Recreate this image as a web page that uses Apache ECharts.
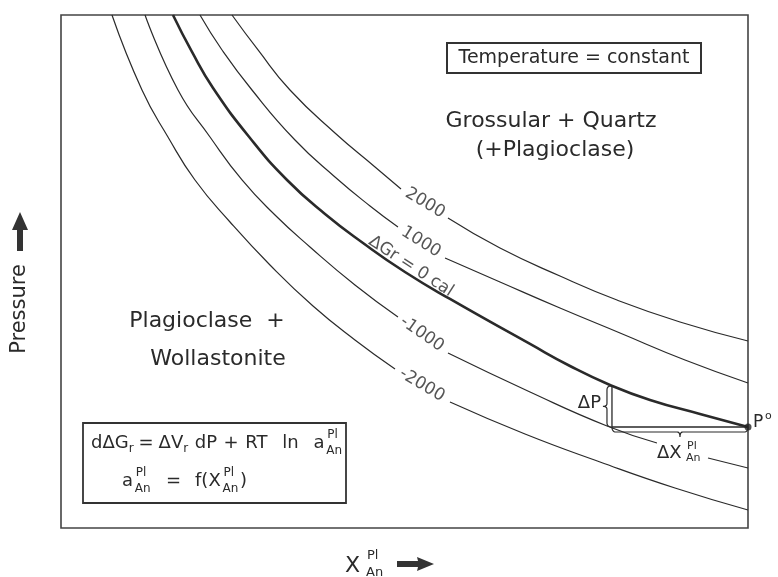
<!DOCTYPE html>
<html>
<head>
<meta charset="utf-8">
<script src="https://cdn.jsdelivr.net/npm/echarts/dist/echarts.min.js"></script>
<style>html,body{margin:0;padding:0;background:#fff}#c{width:778px;height:577px}</style>
</head>
<body>
<div id="c"></div>
<script>
// ---- Data (x = mole fraction X_An^Pl, arbitrary 0..1; y = pressure, arbitrary 0..10) ----
const c2000a  = [[0.2489,10],[0.2868,9.318],[0.3333,8.538],[0.3988,7.700],[0.4571,7.037],[0.4949,6.608]];
const c2000b  = [[0.5633,6.043],[0.6390,5.458],[0.7263,4.912],[0.8093,4.444],[0.9010,4.016],[1,3.645]];
const c1000a  = [[0.2023,10],[0.2344,9.318],[0.2780,8.538],[0.3406,7.563],[0.3988,6.842],[0.4498,6.277],[0.4905,5.867]];
const c1000b  = [[0.5590,5.263],[0.6390,4.795],[0.7263,4.288],[0.8137,3.801],[0.9083,3.275],[1,2.827]];
const c0      = [[0.1630,10],[0.1907,9.279],[0.2213,8.577],[0.2751,7.602],[0.3290,6.784],[0.3843,6.121],[0.4396,5.556],[0.5007,4.990],[0.5662,4.464],[0.6827,3.587],[0.7409,3.158],[0.7991,2.788],[0.8574,2.495],[0.9301,2.222],[1,1.969]];
const cm1000a = [[0.1223,10],[0.1703,8.538],[0.2169,7.622],[0.2635,6.784],[0.3115,6.101],[0.3624,5.478],[0.4279,4.737],[0.4905,4.113]];
const cm1000b = [[0.5633,3.411],[0.6827,2.651],[0.7948,1.988],[0.8675,1.657]];
const cm1000c = [[0.9418,1.365],[1,1.170]];
const cm2000a = [[0.0742,10],[0.1179,8.538],[0.1557,7.622],[0.1950,6.784],[0.2460,5.965],[0.3042,5.127],[0.3668,4.327],[0.4279,3.665],[0.4862,3.099]];
const cm2000b = [[0.5662,2.456],[0.6754,1.832],[0.7846,1.287],[0.8937,0.780],[1,0.351]];

const curveLabels = ['2000', '1000', 'ΔGr = 0 cal', '-1000', '-2000'];
const labelPos    = [[0.5298,6.335],[0.5240,5.575],[0.5095,5.100],[0.5255,3.782],[0.5255,2.788]];
const labelAngle  = [-31, -32, -33, -35, -31];

const P0 = [1, 1.969];                 // reference point P°
const deltaP = [[0.802,2.772],[0.802,1.969],[1,1.969]];  // ΔP / ΔX construction

const FONT = '"DejaVu Sans", sans-serif';
const INK = '#2a2a2a';

const chart = echarts.init(document.getElementById('c'), null, {renderer:'canvas'});

function curve(data, w) {
  return {type:'line', data, smooth:0.5, symbol:'none', silent:true, clip:false,
          lineStyle:{color:INK, width:w}, z:3};
}

const series = [
  curve(c2000a,1.2), curve(c2000b,1.2), curve(c1000a,1.2), curve(c1000b,1.2),
  curve(c0,2.6),
  curve(cm1000a,1.2), curve(cm1000b,1.2), curve(cm1000c,1.2),
  curve(cm2000a,1.2), curve(cm2000b,1.2),
  {type:'line', data:deltaP, symbol:'none', silent:true, clip:false, lineStyle:{color:INK, width:1.3}, z:3},
  {type:'scatter', data:[P0], symbolSize:7, itemStyle:{color:'#222'}, clip:false, silent:true, z:5},
  {type:'scatter', symbolSize:0, silent:true, clip:false, z:6,
   data: labelPos.map((p,i)=>({value:p, label:{show:true, position:'inside', formatter:curveLabels[i],
      rotate:labelAngle[i], fontSize:17, color:INK, fontFamily:FONT}}))}
];

chart.setOption({
  animation:false,
  grid:{left:61, top:15, width:687, height:513, show:true, borderColor:'#444', borderWidth:1.6, backgroundColor:'transparent'},
  xAxis:{type:'value', min:0, max:1, show:false},
  yAxis:{type:'value', min:0, max:10, show:false},
  series
});

function txt(s, x, y, size, align, extra) {
  return Object.assign({type:'text', x, y, z:100, silent:true,
    style:{text:s, font:size+'px '+FONT, fill:INK, textAlign:align||'left', align:align||'left',
           textVerticalAlign:'middle', verticalAlign:'middle'}}, extra||{});
}

const mctx = document.createElement('canvas').getContext('2d');
function tw(s, size) { mctx.font = size + 'px ' + FONT; return mctx.measureText(s).width; }

// sequential layout of formula pieces: kind 'm' main, 's' subscript, 'st' stacked sup/sub
function layoutLine(pieces, x0, x1, y, main, small, out) {
  const widths = pieces.map(p => p[0]==='st' ? Math.max(tw(p[1],small), tw(p[2],small)) : tw(p[1], p[0]==='m'?main:small));
  const gaps = pieces.map(p => p[p[0]==='st'?3:2] || 0);
  const sw = widths.reduce((a,b)=>a+b,0), sg = gaps.reduce((a,b)=>a+b,0);
  const k = sg > 0 ? Math.max(0, (x1 - x0 - sw) / sg) : 0;
  let x = x0;
  pieces.forEach((p,i) => {
    if (p[0]==='m') out.push(txt(p[1], x, y, main));
    else if (p[0]==='s') out.push(txt(p[1], x, y+6, small));
    else { out.push(txt(p[1], x+1, y-8, small)); out.push(txt(p[2], x, y+8, small)); }
    x += widths[i] + gaps[i]*k;
  });
}

const g = [];
// region labels
g.push(txt('Temperature = constant', 574, 58, 19, 'center'));
g.push({type:'rect', shape:{x:447, y:43, width:254, height:30}, style:{fill:'none', stroke:'#333', lineWidth:2}, silent:true, z:100});
g.push(txt('Grossular + Quartz', 551, 121, 22, 'center'));
g.push(txt('(+Plagioclase)', 555, 150, 22, 'center'));
g.push(txt('Plagioclase  +', 207, 321, 22, 'center'));
g.push(txt('Wollastonite', 218, 359, 22, 'center'));

// formula box
g.push({type:'rect', shape:{x:83, y:423, width:263, height:80}, style:{fill:'none', stroke:'#333', lineWidth:1.8}, silent:true, z:100});
layoutLine([['m','dΔG',0],['s','r',3],['m','=',3],['m','ΔV',0],['s','r',4],['m','dP',4],['m','+',4],['m','RT',9],['m','ln',9],['m','a',1],['st','Pl','An',0]],
           91, 342, 443, 18, 12, g);
layoutLine([['m','a',1],['st','Pl','An',9],['m','=',8],['m','f(X',1],['st','Pl','An',1],['m',')',0]],
           122, 247, 481, 18, 12, g);

// P°, ΔP, ΔX labels
g.push(txt('P', 753, 423, 17));
g.push(txt('o', 765, 416, 11));
g.push(txt('ΔP', 601, 403, 18, 'right'));
g.push(txt('ΔX', 657, 453, 18));
g.push(txt('Pl', 687, 446, 11));
g.push(txt('An', 686, 458, 11));

// axis titles
g.push(txt('Pressure', 20, 309, 21, 'center', {rotation:Math.PI/2}));
g.push({type:'polygon', shape:{points:[[20,212],[28,230],[23,230],[23,251],[17,251],[17,230],[12,230]]}, style:{fill:'#333'}, silent:true, z:100});
g.push(txt('X', 345, 566, 22));
g.push(txt('Pl', 367, 556, 13));
g.push(txt('An', 366, 573, 13));
g.push({type:'polygon', shape:{points:[[397,561],[418,561],[417,557],[434,564],[417,571],[418,567],[397,567]]}, style:{fill:'#333'}, silent:true, z:100});

// braces anchored to the ΔP construction (sampled quadratic curves)
function quad(p0, p1, p2, n) {
  const pts = [];
  for (let i = 0; i <= n; i++) {
    const t = i / n, a = (1-t)*(1-t), b = 2*(1-t)*t, c = t*t;
    pts.push([a*p0[0]+b*p1[0]+c*p2[0], a*p0[1]+b*p1[1]+c*p2[1]]);
  }
  return pts;
}
function bracePts(segs) { let pts = []; segs.forEach(s => { pts = pts.concat(s); }); return pts; }
const pTop = chart.convertToPixel({gridIndex:0}, deltaP[0]);
const pBot = chart.convertToPixel({gridIndex:0}, deltaP[1]);
const pEnd = chart.convertToPixel({gridIndex:0}, deltaP[2]);
(function(){
  const xL = pTop[0], yT = pTop[1], yB = pBot[1];
  const xb = xL - 5, xt = xL - 9, ym = (yT + yB) / 2;
  const v = bracePts([
    quad([xL,yT],[xb,yT],[xb,yT+4],6),
    quad([xb,ym-3],[xb,ym],[xt,ym],5),
    quad([xt,ym],[xb,ym],[xb,ym+3],5),
    quad([xb,yB-4],[xb,yB],[xL,yB],6)
  ]);
  const y0 = yB, yb = y0 + 5, tip = y0 + 10, xR = pEnd[0], xm = (xL + xR) / 2;
  const h = bracePts([
    quad([xL,y0],[xL,yb],[xL+4,yb],6),
    quad([xm-3,yb],[xm,yb],[xm,tip],5),
    quad([xm,tip],[xm,yb],[xm+3,yb],5),
    quad([xR-4,yb],[xR,yb],[xR,y0],6)
  ]);
  g.push({type:'polyline', shape:{points:v}, style:{fill:null, stroke:INK, lineWidth:1.2}, silent:true, z:100});
  g.push({type:'polyline', shape:{points:h}, style:{fill:null, stroke:INK, lineWidth:1.2}, silent:true, z:100});
})();

chart.setOption({graphic:{elements:g}});
</script>
</body>
</html>
